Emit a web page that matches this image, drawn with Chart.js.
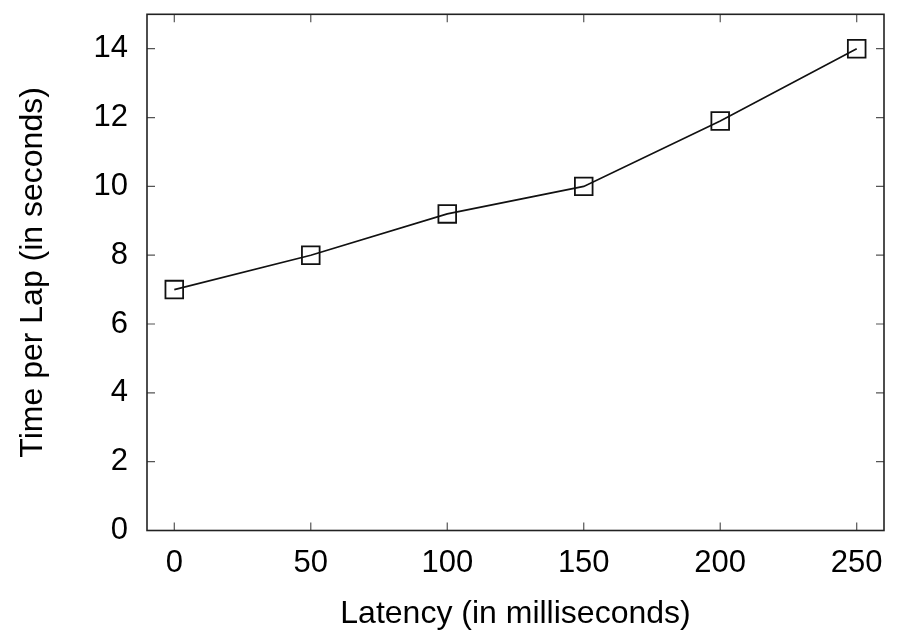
<!DOCTYPE html>
<html>
<head>
<meta charset="utf-8">
<script src="https://cdn.jsdelivr.net/npm/chart.js@4"></script>
<style>
html,body{margin:0;padding:0;background:#fff;}
#wrap{width:903px;height:633px;position:relative;}
</style>
</head>
<body>
<div id="wrap"><canvas id="c" width="903" height="633"></canvas></div>
<script>
const latency = [0, 50, 100, 150, 200, 250];
const lapTime = [7, 8, 9.2, 10, 11.9, 14];
const xTicks = [0, 50, 100, 150, 200, 250];
const yTicks = [0, 2, 4, 6, 8, 10, 12, 14];
const xTitle = 'Latency (in milliseconds)';
const yTitle = 'Time per Lap (in seconds)';

const FONT = '"Liberation Sans", Arial, Helvetica, sans-serif';

const framePlugin = {
  id: 'frame',
  afterDatasetsDraw(chart) {
    const {ctx, chartArea: a, scales} = chart;
    ctx.save();
    ctx.strokeStyle = '#555';
    ctx.lineWidth = 1.2;
    const L = 8;
    ctx.beginPath();
    scales.x.ticks.forEach(t => {
      const px = scales.x.getPixelForValue(t.value);
      ctx.moveTo(px, a.bottom); ctx.lineTo(px, a.bottom - L);
      ctx.moveTo(px, a.top); ctx.lineTo(px, a.top + L);
    });
    scales.y.ticks.forEach(t => {
      const py = scales.y.getPixelForValue(t.value);
      ctx.moveTo(a.left, py); ctx.lineTo(a.left + L, py);
      ctx.moveTo(a.right, py); ctx.lineTo(a.right - L, py);
    });
    ctx.stroke();
    ctx.strokeStyle = '#222';
    ctx.lineWidth = 1.6;
    ctx.strokeRect(a.left, a.top, a.right - a.left, a.bottom - a.top);
    ctx.restore();
  }
};

new Chart(document.getElementById('c'), {
  type: 'line',
  data: {
    datasets: [{
      data: latency.map((x, i) => ({x: x, y: lapTime[i]})),
      borderColor: '#111',
      borderWidth: 1.6,
      pointStyle: 'rect',
      pointRadius: 12.5,
      pointBorderWidth: 1.8,
      pointBorderColor: '#111',
      pointBackgroundColor: 'rgba(0,0,0,0)',
      tension: 0,
      fill: false
    }]
  },
  options: {
    responsive: false,
    animation: false,
    events: [],
    layout: {padding: {left: 0, top: 10, right: 19, bottom: 0}},
    plugins: {legend: {display: false}, tooltip: {enabled: false}},
    scales: {
      x: {
        type: 'linear',
        min: -10, max: 260,
        afterBuildTicks: s => { s.ticks = xTicks.map(v => ({value: v})); },
        afterFit: s => { s.height = 102.5; s.paddingLeft = 0; s.paddingRight = 0; },
        grid: {display: false, drawTicks: false},
        border: {display: false},
        ticks: {color: '#000', padding: 14, font: {family: FONT, size: 31}, maxRotation: 0, autoSkip: false},
        title: {display: true, text: xTitle, color: '#000', padding: {top: 1, bottom: 0}, font: {family: FONT, size: 32}}
      },
      y: {
        type: 'linear',
        min: 0, max: 15,
        afterBuildTicks: s => { s.ticks = yTicks.map(v => ({value: v})); },
        afterFit: s => { s.width = 147; s.paddingTop = 0; s.paddingBottom = 0; },
        grid: {display: false, drawTicks: false},
        border: {display: false},
        ticks: {color: '#000', padding: 19, font: {family: FONT, size: 31}, autoSkip: false},
        title: {display: true, text: yTitle, color: '#000', padding: {top: 14, bottom: 0}, font: {family: FONT, size: 32}}
      }
    }
  },
  plugins: [framePlugin]
});
</script>
</body>
</html>
